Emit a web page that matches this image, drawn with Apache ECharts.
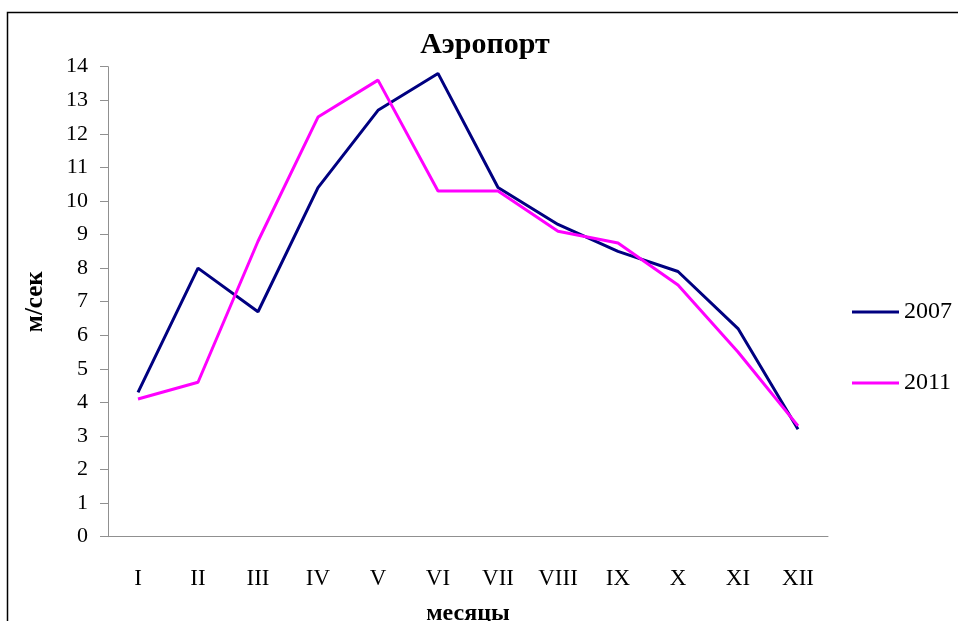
<!DOCTYPE html>
<html>
<head>
<meta charset="utf-8">
<script src="https://cdn.jsdelivr.net/npm/echarts@6/dist/echarts.min.js"></script>
<style>
  html, body { margin: 0; padding: 0; background: #fff; }
  #main { width: 958px; height: 621px; }
</style>
</head>
<body>
<div id="main"></div>
<script>
// месяцы
var months = ['I', 'II', 'III', 'IV', 'V', 'VI', 'VII', 'VIII', 'IX', 'X', 'XI', 'XII'];
// скорость ветра, м/сек
var y2007 = [4.3, 8.0, 6.7, 10.4, 12.7, 13.8, 10.4, 9.3, 8.5, 7.9, 6.2, 3.2];
var y2011 = [4.1, 4.6, 8.8, 12.5, 13.6, 10.3, 10.3, 9.1, 8.75, 7.5, 5.5, 3.3];

var serif = '"Liberation Serif", "DejaVu Serif", serif';
var chart = echarts.init(document.getElementById('main'));

chart.setOption({
  backgroundColor: '#fff',
  animation: false,
  textStyle: { fontFamily: serif },
  title: {
    text: 'Аэропорт',
    left: 485, top: 30, textAlign: 'center', padding: 0,
    textStyle: { fontFamily: serif, fontSize: 30, fontWeight: 'bold', color: '#000' }
  },
  // рамка диаграммы
  graphic: [{
    type: 'rect',
    shape: { x: 7.5, y: 12.5, width: 1000, height: 700 },
    style: { fill: null, stroke: '#000', lineWidth: 1.5 },
    silent: true
  }],
  legend: {
    orient: 'vertical',
    left: 847, top: 295,
    itemGap: 47,
    itemWidth: 47, itemHeight: 14,
    icon: 'path://M0,5.5 L47,5.5 L47,8.5 L0,8.5 Z',
    data: ['2007', '2011'],
    textStyle: { fontFamily: serif, fontSize: 24, color: '#000' }
  },
  grid: { left: 108, right: 130, top: 66.7, bottom: 84.3, outerBoundsMode: 'none' },
  xAxis: {
    type: 'category',
    data: months,
    boundaryGap: true,
    name: 'месяцы',
    nameLocation: 'middle',
    nameGap: 65,
    nameTextStyle: { fontFamily: serif, fontSize: 24, fontWeight: 'bold', color: '#000' },
    axisLine: { lineStyle: { color: '#909090', width: 1 } },
    axisTick: { alignWithLabel: false, length: 7, lineStyle: { color: '#909090' } },
    axisLabel: { fontFamily: serif, fontSize: 23, color: '#000', margin: 31 }
  },
  yAxis: {
    type: 'value',
    min: 0, max: 14, interval: 1,
    name: 'м/сек',
    nameLocation: 'middle',
    nameGap: 60,
    nameRotate: 90,
    nameTextStyle: { fontFamily: serif, fontSize: 25, fontWeight: 'bold', color: '#000' },
    axisLine: { show: true, lineStyle: { color: '#909090', width: 1 } },
    axisTick: { show: true, length: 8, lineStyle: { color: '#909090' } },
    axisLabel: { fontFamily: serif, fontSize: 22, color: '#000', margin: 20 },
    splitLine: { show: false }
  },
  series: [
    {
      name: '2007', type: 'line', data: y2007,
      symbol: 'none', color: '#000080',
      lineStyle: { color: '#000080', width: 3 }
    },
    {
      name: '2011', type: 'line', data: y2011,
      symbol: 'none', color: '#FF00FF',
      lineStyle: { color: '#FF00FF', width: 3 }
    }
  ]
});
</script>
</body>
</html>
